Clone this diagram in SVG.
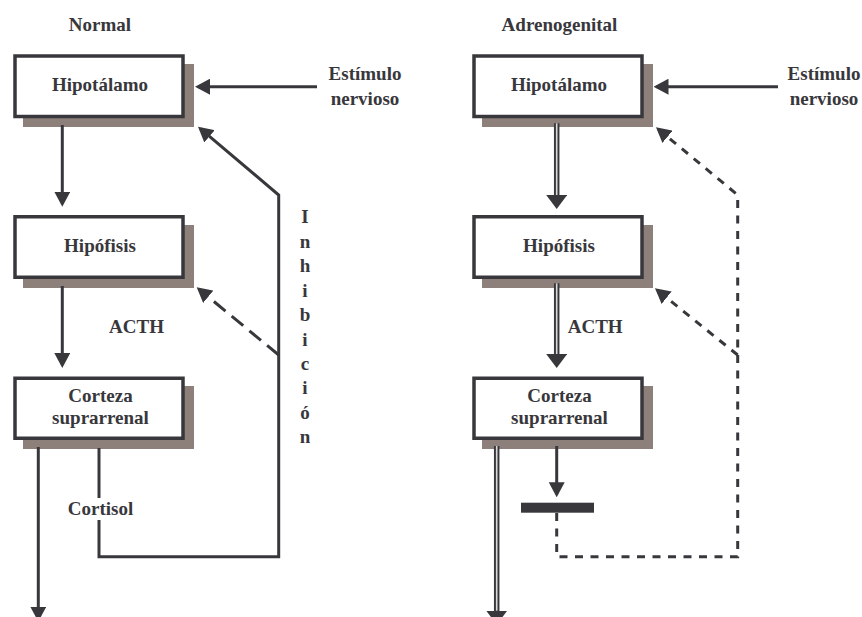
<svg xmlns="http://www.w3.org/2000/svg" width="862" height="617" viewBox="0 0 862 617">
  <style>
    .txt { font-family: "Liberation Serif", "Times New Roman", serif; font-weight: bold; font-size: 19px; fill: #38373c; text-anchor: middle; }
    .shadow { fill: #8d807b; }
    .box { fill: #ffffff; stroke: #38373c; stroke-width: 3.5; }
    .ln { fill: none; stroke: #38373c; stroke-width: 3; }
    .dash { fill: none; stroke: #38373c; stroke-width: 3; stroke-dasharray: 8 7.5; }
    .dashl { fill: none; stroke: #38373c; stroke-width: 3; stroke-dasharray: 15 8; }
    .dbl { fill: none; stroke: #38373c; stroke-width: 5.5; }
    .dbl-in { fill: none; stroke: #d9d9d9; stroke-width: 1.6; }
  </style>
  <defs>
    <marker id="arr" viewBox="0 0 15 16" markerWidth="15" markerHeight="16" refX="12" refY="8" orient="auto" markerUnits="userSpaceOnUse">
      <path d="M0,0 L15,8 L0,16 Z" fill="#38373c"/>
    </marker>
    <marker id="arrw" viewBox="0 0 14 21" markerWidth="14" markerHeight="21" refX="4" refY="10.5" orient="auto" markerUnits="userSpaceOnUse">
      <path d="M0,0 L14,10.5 L0,21 Z" fill="#38373c"/>
    </marker>
  </defs>

  <!-- column titles -->
  <text class="txt" x="100" y="30.5">Normal</text>
  <text class="txt" x="559.5" y="30.5">Adrenogenital</text>

  <!-- Normal pathway -->
  <g id="n-hipotalamo">
    <rect class="shadow" x="23" y="64" width="171" height="63"/>
    <rect class="box" x="15" y="56" width="168" height="60.5"/>
    <text class="txt" x="100" y="91">Hipotálamo</text>
  </g>
  <g id="n-hipofisis">
    <rect class="shadow" x="23" y="225" width="171" height="63"/>
    <rect class="box" x="15" y="216.75" width="168" height="60.5"/>
    <text class="txt" x="100" y="252">Hipófisis</text>
  </g>
  <g id="n-corteza">
    <rect class="shadow" x="23" y="386" width="171" height="63"/>
    <rect class="box" x="15" y="378.25" width="168" height="60"/>
    <text class="txt" x="100.5" y="401.7">Corteza</text>
    <text class="txt" x="100.5" y="424">suprarrenal</text>
  </g>
  <g id="n-estimulo">
    <text class="txt" x="365" y="80">Estímulo</text>
    <text class="txt" x="365" y="105">nervioso</text>
  </g>
  <g id="n-labels">
    <text class="txt" x="136.5" y="333">ACTH</text>
    <text class="txt" x="100.5" y="515">Cortisol</text>
    <text class="txt" x="305" y="223.3">I</text>
    <text class="txt" x="305" y="247.7">n</text>
    <text class="txt" x="305" y="272.2">h</text>
    <text class="txt" x="305" y="296.6">i</text>
    <text class="txt" x="305" y="321.1">b</text>
    <text class="txt" x="305" y="345.5">i</text>
    <text class="txt" x="305" y="370">c</text>
    <text class="txt" x="305" y="394.4">i</text>
    <text class="txt" x="305" y="418.8">ó</text>
    <text class="txt" x="305" y="443.3">n</text>
  </g>

  <!-- Adrenogenital pathway -->
  <g id="a-hipotalamo">
    <rect class="shadow" x="482" y="64" width="171" height="63"/>
    <rect class="box" x="474" y="56" width="168" height="60.5"/>
    <text class="txt" x="559" y="91">Hipotálamo</text>
  </g>
  <g id="a-hipofisis">
    <rect class="shadow" x="482" y="225" width="171" height="63"/>
    <rect class="box" x="474" y="216.75" width="168" height="60.5"/>
    <text class="txt" x="559" y="252">Hipófisis</text>
  </g>
  <g id="a-corteza">
    <rect class="shadow" x="482" y="386" width="171" height="63"/>
    <rect class="box" x="474" y="378.25" width="168" height="60"/>
    <text class="txt" x="559.5" y="401.7">Corteza</text>
    <text class="txt" x="559.5" y="424">suprarrenal</text>
  </g>
  <g id="a-estimulo">
    <text class="txt" x="824" y="80">Estímulo</text>
    <text class="txt" x="824" y="105">nervioso</text>
  </g>
  <g id="a-labels">
    <text class="txt" x="595.2" y="333">ACTH</text>
  </g>
  <g id="a-block">
    <rect x="521" y="502.7" width="73" height="10" fill="#38373c"/>
  </g>

  <!-- connectors -->
  <g id="connectors">
    <!-- normal -->
    <path class="ln" d="M317,86.7 H198" marker-end="url(#arr)"/>
    <path class="ln" d="M62.3,125 V203.7" marker-end="url(#arr)"/>
    <path class="ln" d="M62.3,286 V365" marker-end="url(#arr)"/>
    <path class="ln" d="M38.3,447 V618.7" marker-end="url(#arr)"/>
    <path class="ln" d="M99,448 V498"/>
    <path class="ln" d="M99,520 V556.7 H278.7 V195 L200.3,128.6" marker-end="url(#arr)"/>
    <path class="dashl" d="M278.7,355 L199,289.2" marker-end="url(#arr)"/>

    <!-- adrenogenital -->
    <path class="ln" d="M778,86.7 H656.5" marker-end="url(#arr)"/>
    <path class="dbl" d="M556.7,123.3 V199" marker-end="url(#arrw)"/>
    <path class="dbl-in" d="M556.7,123.3 V195"/>
    <path class="dbl" d="M556.7,283.3 V358" marker-end="url(#arrw)"/>
    <path class="dbl-in" d="M556.7,283.3 V354"/>
    <path class="dbl" d="M496.7,446 V614.7" marker-end="url(#arrw)"/>
    <path class="dbl-in" d="M496.7,446 V610.7"/>
    <path class="ln" d="M556.7,446 V494.3" marker-end="url(#arr)"/>
    <path class="dash" d="M556.7,513 V556.7 H737.7 V195 L658.3,129.2" marker-end="url(#arr)"/>
    <path class="dash" d="M737.7,355 L657.3,290.2" marker-end="url(#arr)"/>
  </g>
</svg>
